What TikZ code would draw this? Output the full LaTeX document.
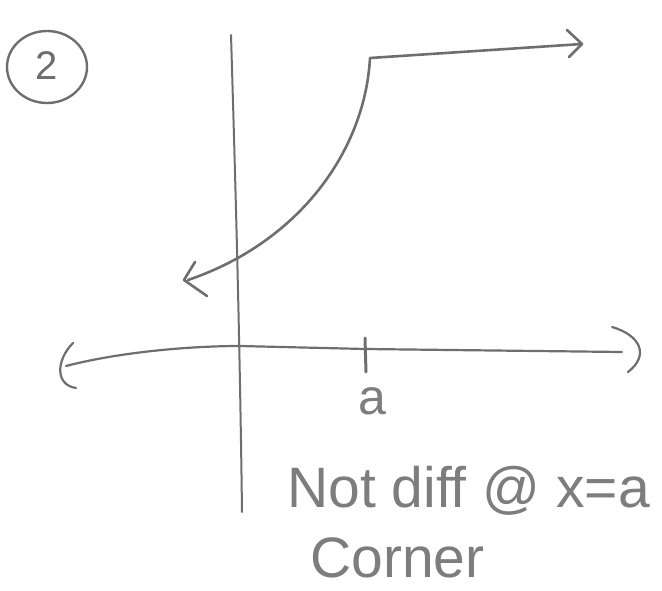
\documentclass[tikz,border=0pt]{standalone}
\usepackage{fontspec}
\setmainfont{Liberation Sans}
\definecolor{pencil}{RGB}{110,110,110}
\definecolor{pencilt}{RGB}{125,125,125}
\begin{document}
\begin{tikzpicture}[x=1pt,y=-1pt,
  pen/.style={draw=pencil,line width=2.6pt,line cap=round,line join=round},
  hand/.style={text=pencilt,font=\fontsize{57}{60}\selectfont,inner sep=0pt}]
\useasboundingbox (0,0) rectangle (662,591);
% circled 2
\draw[pen,line width=2.4pt] (47,67) ellipse [x radius=40, y radius=36];
\node[hand,text=pencil,font=\fontsize{40}{44}\selectfont] (two) at (47,66) {2};
% y-axis
\coordinate (yt) at (231,35);
\coordinate (yb) at (242,512);
\draw[pen,line width=2pt] (yt) .. controls (236,200) and (240,350) .. (yb);
% x-axis
\coordinate (xl) at (66,366);
\coordinate (xr) at (622,352);
\coordinate (tick) at (365,349);
\draw[pen,line width=2.2pt] (xl) .. controls (120,352) and (190,346) .. (240,346) -- (tick) -- (xr);
\draw[pen,line width=2.2pt] (73,343) .. controls (56,360) and (55,385) .. (76,388);
\draw[pen,line width=2.2pt] (612,327) .. controls (640,335) and (650,355) .. (628,372);
\draw[pen,line width=3pt] (365,338) -- (366,372);
\node[hand,anchor=base,font=\fontsize{50}{54}\selectfont] (a) at (372,414) {a};
% function curve
\coordinate (lt) at (188,280);
\coordinate (corner) at (370,58);
\coordinate (rt) at (582,44);
\draw[pen] (lt) .. controls (300,242) and (365,150) .. (corner) -- (rt);
\draw[pen] (195,262) -- (184,280) -- (207,296);
\draw[pen] (567,30) -- (rt) -- (569,57);
% text
\node[hand,anchor=base west] (t1) at (287,507) {Not diff @ x=a};
\node[hand,anchor=base west] (t2) at (310,577) {Corner};
\end{tikzpicture}
\end{document}
